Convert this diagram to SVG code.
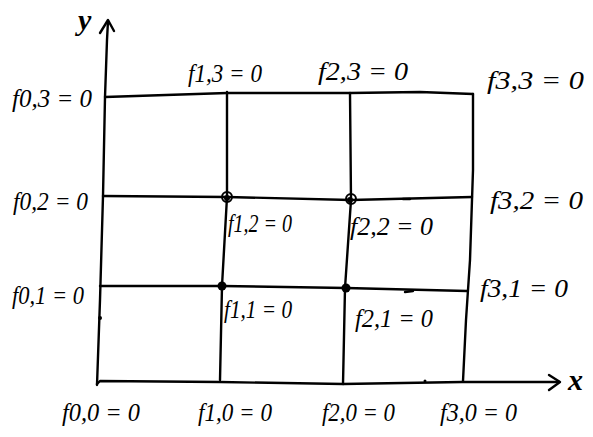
<svg xmlns="http://www.w3.org/2000/svg" width="593" height="437" viewBox="0 0 593 437">
<style>
.ln{fill:none;stroke:#000;stroke-width:2.4;stroke-linecap:round;stroke-linejoin:round}
.lb{font-family:"Liberation Serif",serif;font-style:italic;font-size:25px;fill:#000}
.ax{font-family:"Liberation Serif",serif;font-style:italic;font-weight:bold;font-size:30px;fill:#000}
.pt{fill:#000}
.ring{fill:none;stroke:#000;stroke-width:2}
</style>
<rect width="593" height="437" fill="#fff"/>
<g id="connectors">
  <path class="ln" d="M97,385 L100,300 L103,196 L105,97 L107,40 L108,21"/>
  <path class="ln" d="M100,33 L108,20 L114,31"/>
  <path class="ln" d="M97,384 L100,381 L220,382 L343,384 L462,382 L559,382"/>
  <path class="ln" d="M549,375 L560,382 L549,390"/>
  <path class="ln" d="M105,97 L227,93 L350,93 L420,92 L473,94"/>
  <path class="ln" d="M473,94 L473,170 L470,260 L466,320 L463,381"/>
  <path class="ln" d="M103,196 L227,197 L351,200 L472,197"/>
  <path class="ln" d="M100,286 L222,286 L346,288 L467,291"/>
  <path class="ln" d="M227,92 L227,197 L222,286 L220,380"/>
  <path class="ln" d="M350,93 L351,200 L345,288 L343,384"/>
  <circle class="ring" cx="227" cy="197" r="5"/><circle class="pt" cx="227" cy="198" r="3"/>
  <circle class="ring" cx="351" cy="199" r="5"/><circle class="pt" cx="350" cy="200" r="3"/>
  <circle class="pt" cx="222" cy="286" r="4.5"/>
  <circle class="pt" cx="346" cy="288" r="4.5"/>
  <path class="ln" d="M403,199 L410,199"/>
  <path class="ln" d="M405,292 L413,291"/>
  <circle class="pt" cx="100" cy="318" r="2"/>
  <circle class="pt" cx="425" cy="381" r="1.5"/>
</g>
<g id="axis-labels">
  <text class="ax" x="78" y="30">y</text>
  <text class="ax" x="568" y="390">x</text>
</g>
<g id="labels-row3">
  <text class="lb" x="12" y="107" textLength="80" lengthAdjust="spacingAndGlyphs">f0,3 = 0</text>
  <text class="lb" x="188" y="82" textLength="74" lengthAdjust="spacingAndGlyphs">f1,3 = 0</text>
  <text class="lb" x="318" y="80" textLength="90" lengthAdjust="spacingAndGlyphs">f2,3 = 0</text>
  <text class="lb" x="487" y="89" textLength="97" lengthAdjust="spacingAndGlyphs">f3,3 = 0</text>
</g>
<g id="labels-row2">
  <text class="lb" x="13" y="210" textLength="75" lengthAdjust="spacingAndGlyphs">f0,2 = 0</text>
  <text class="lb" x="228" y="232" textLength="64" lengthAdjust="spacingAndGlyphs">f1,2 = 0</text>
  <text class="lb" x="350" y="235" textLength="83" lengthAdjust="spacingAndGlyphs">f2,2 = 0</text>
  <text class="lb" x="490" y="209" textLength="93" lengthAdjust="spacingAndGlyphs">f3,2 = 0</text>
</g>
<g id="labels-row1">
  <text class="lb" x="12" y="304" textLength="72" lengthAdjust="spacingAndGlyphs">f0,1 = 0</text>
  <text class="lb" x="224" y="318" textLength="68" lengthAdjust="spacingAndGlyphs">f1,1 = 0</text>
  <text class="lb" x="355" y="327" textLength="78" lengthAdjust="spacingAndGlyphs">f2,1 = 0</text>
  <text class="lb" x="480" y="297" textLength="88" lengthAdjust="spacingAndGlyphs">f3,1 = 0</text>
</g>
<g id="labels-row0">
  <text class="lb" x="62" y="421" textLength="78" lengthAdjust="spacingAndGlyphs">f0,0 = 0</text>
  <text class="lb" x="198" y="421" textLength="74" lengthAdjust="spacingAndGlyphs">f1,0 = 0</text>
  <text class="lb" x="322" y="421" textLength="73" lengthAdjust="spacingAndGlyphs">f2,0 = 0</text>
  <text class="lb" x="440" y="421" textLength="77" lengthAdjust="spacingAndGlyphs">f3,0 = 0</text>
</g>
</svg>
